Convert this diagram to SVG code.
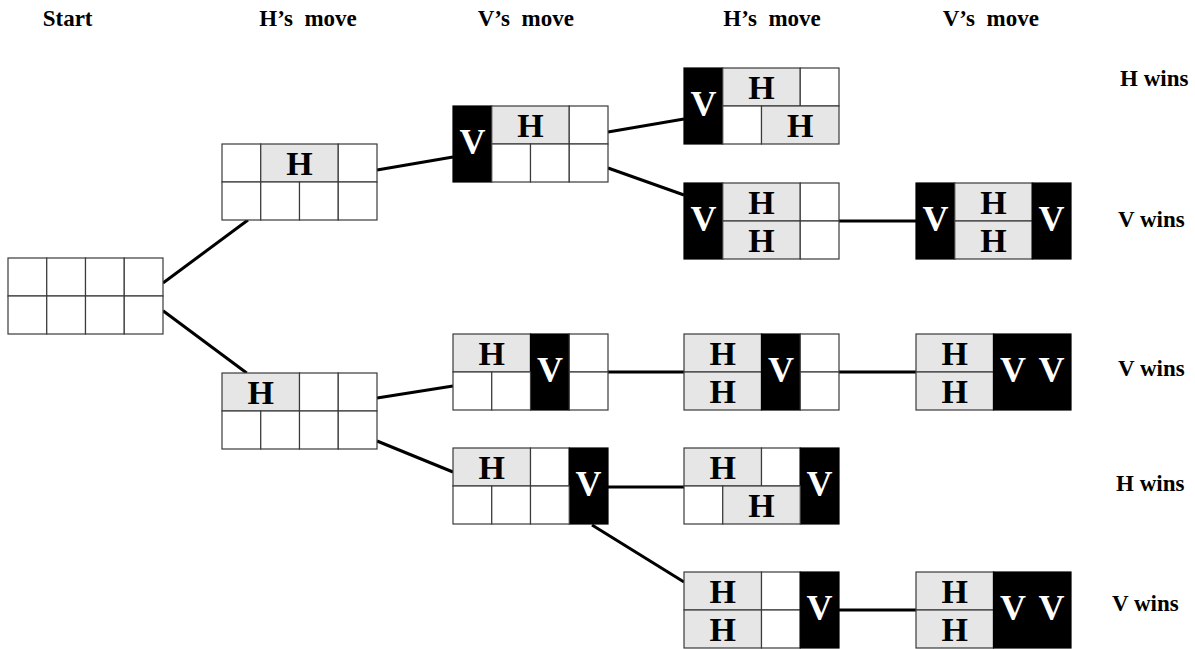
<svg xmlns="http://www.w3.org/2000/svg" width="1195" height="649" viewBox="0 0 1195 649">
<defs>
<style>
.e{fill:#fff;stroke:#3a3a3a;stroke-width:1.2}
.g{fill:#e6e6e6;stroke:#3a3a3a;stroke-width:1.2}
.b{fill:#000;stroke:#000;stroke-width:1.2}
.h{font-weight:bold;font-size:34px;text-anchor:middle;fill:#000}
.v{font-weight:bold;font-size:36px;text-anchor:middle;fill:#fff}
.t{font-weight:bold;font-size:23px;fill:#000}
.c{stroke:#000;stroke-width:3;fill:none}
</style>
</defs>
<rect width="1195" height="649" fill="#fff"/>
<g font-family="Liberation Serif, Times New Roman, DejaVu Serif, serif">
<g id="headers">
<text class="t" x="42.7" y="26">Start</text>
<text class="t" x="259.3" y="26" xml:space="preserve">H’s  move</text>
<text class="t" x="477.7" y="26" xml:space="preserve">V’s  move</text>
<text class="t" x="723.3" y="26" xml:space="preserve">H’s  move</text>
<text class="t" x="942.7" y="26" xml:space="preserve">V’s  move</text>
</g>
<g id="connectors">
<line class="c" x1="163" y1="283" x2="248" y2="220"/>
<line class="c" x1="163" y1="310.7" x2="246.7" y2="373"/>
<line class="c" x1="377" y1="170" x2="453" y2="157"/>
<line class="c" x1="377" y1="398" x2="453" y2="386"/>
<line class="c" x1="377" y1="441" x2="453" y2="472"/>
<line class="c" x1="608" y1="132" x2="684" y2="119"/>
<line class="c" x1="608" y1="168" x2="684" y2="195"/>
<line class="c" x1="839" y1="221" x2="916" y2="221"/>
<line class="c" x1="608" y1="372" x2="684" y2="372"/>
<line class="c" x1="839" y1="372" x2="916" y2="372"/>
<line class="c" x1="608" y1="487" x2="684" y2="487"/>
<line class="c" x1="592" y1="525" x2="684" y2="582"/>
<line class="c" x1="839" y1="610" x2="916" y2="610"/>
</g>
<g id="start" transform="translate(8,258)">
<rect class="e" x="0" y="0" width="38.75" height="38"/><rect class="e" x="38.75" y="0" width="38.75" height="38"/><rect class="e" x="77.5" y="0" width="38.75" height="38"/><rect class="e" x="116.25" y="0" width="38.75" height="38"/>
<rect class="e" x="0" y="38" width="38.75" height="38"/><rect class="e" x="38.75" y="38" width="38.75" height="38"/><rect class="e" x="77.5" y="38" width="38.75" height="38"/><rect class="e" x="116.25" y="38" width="38.75" height="38"/>
</g>
<g id="h1a" transform="translate(222,144)">
<rect class="e" x="0" y="0" width="38.75" height="38"/><rect class="g" x="38.75" y="0" width="77.5" height="38"/><rect class="e" x="116.25" y="0" width="38.75" height="38"/>
<rect class="e" x="0" y="38" width="38.75" height="38"/><rect class="e" x="38.75" y="38" width="38.75" height="38"/><rect class="e" x="77.5" y="38" width="38.75" height="38"/><rect class="e" x="116.25" y="38" width="38.75" height="38"/>
<text class="h" x="77.5" y="30.5">H</text>
</g>
<g id="h1b" transform="translate(222,373)">
<rect class="g" x="0" y="0" width="77.5" height="38"/><rect class="e" x="77.5" y="0" width="38.75" height="38"/><rect class="e" x="116.25" y="0" width="38.75" height="38"/>
<rect class="e" x="0" y="38" width="38.75" height="38"/><rect class="e" x="38.75" y="38" width="38.75" height="38"/><rect class="e" x="77.5" y="38" width="38.75" height="38"/><rect class="e" x="116.25" y="38" width="38.75" height="38"/>
<text class="h" x="38.75" y="30.5">H</text>
</g>
<g id="v1a" transform="translate(453,106)">
<rect class="b" x="0" y="0" width="38.75" height="76"/>
<rect class="g" x="38.75" y="0" width="77.5" height="38"/><rect class="e" x="116.25" y="0" width="38.75" height="38"/>
<rect class="e" x="38.75" y="38" width="38.75" height="38"/><rect class="e" x="77.5" y="38" width="38.75" height="38"/><rect class="e" x="116.25" y="38" width="38.75" height="38"/>
<text class="v" x="19.4" y="47.5">V</text><text class="h" x="77.5" y="30.5">H</text>
</g>
<g id="v1b" transform="translate(453,334)">
<rect class="g" x="0" y="0" width="77.5" height="38"/><rect class="b" x="77.5" y="0" width="38.75" height="76"/><rect class="e" x="116.25" y="0" width="38.75" height="38"/>
<rect class="e" x="0" y="38" width="38.75" height="38"/><rect class="e" x="38.75" y="38" width="38.75" height="38"/><rect class="e" x="116.25" y="38" width="38.75" height="38"/>
<text class="h" x="38.75" y="30.5">H</text><text class="v" x="96.9" y="47.5">V</text>
</g>
<g id="v1c" transform="translate(453,448)">
<rect class="g" x="0" y="0" width="77.5" height="38"/><rect class="e" x="77.5" y="0" width="38.75" height="38"/><rect class="b" x="116.25" y="0" width="38.75" height="76"/>
<rect class="e" x="0" y="38" width="38.75" height="38"/><rect class="e" x="38.75" y="38" width="38.75" height="38"/><rect class="e" x="77.5" y="38" width="38.75" height="38"/>
<text class="h" x="38.75" y="30.5">H</text><text class="v" x="135.6" y="47.5">V</text>
</g>
<g id="h2a" transform="translate(684,68)">
<rect class="b" x="0" y="0" width="38.75" height="76"/>
<rect class="g" x="38.75" y="0" width="77.5" height="38"/><rect class="e" x="116.25" y="0" width="38.75" height="38"/>
<rect class="e" x="38.75" y="38" width="38.75" height="38"/><rect class="g" x="77.5" y="38" width="77.5" height="38"/>
<text class="v" x="19.4" y="47.5">V</text><text class="h" x="77.5" y="30.5">H</text><text class="h" x="116.25" y="68.5">H</text>
</g>
<g id="h2b" transform="translate(684,183)">
<rect class="b" x="0" y="0" width="38.75" height="76"/>
<rect class="g" x="38.75" y="0" width="77.5" height="38"/><rect class="e" x="116.25" y="0" width="38.75" height="38"/>
<rect class="g" x="38.75" y="38" width="77.5" height="38"/><rect class="e" x="116.25" y="38" width="38.75" height="38"/>
<text class="v" x="19.4" y="47.5">V</text><text class="h" x="77.5" y="30.5">H</text><text class="h" x="77.5" y="68.5">H</text>
</g>
<g id="h2c" transform="translate(684,334)">
<rect class="g" x="0" y="0" width="77.5" height="38"/><rect class="g" x="0" y="38" width="77.5" height="38"/>
<rect class="b" x="77.5" y="0" width="38.75" height="76"/>
<rect class="e" x="116.25" y="0" width="38.75" height="38"/><rect class="e" x="116.25" y="38" width="38.75" height="38"/>
<text class="h" x="38.75" y="30.5">H</text><text class="h" x="38.75" y="68.5">H</text><text class="v" x="96.9" y="47.5">V</text>
</g>
<g id="h2d" transform="translate(684,448)">
<rect class="g" x="0" y="0" width="77.5" height="38"/><rect class="e" x="77.5" y="0" width="38.75" height="38"/><rect class="b" x="116.25" y="0" width="38.75" height="76"/>
<rect class="e" x="0" y="38" width="38.75" height="38"/><rect class="g" x="38.75" y="38" width="77.5" height="38"/>
<text class="h" x="38.75" y="30.5">H</text><text class="h" x="77.5" y="68.5">H</text><text class="v" x="135.6" y="47.5">V</text>
</g>
<g id="h2e" transform="translate(684,572)">
<rect class="g" x="0" y="0" width="77.5" height="38"/><rect class="g" x="0" y="38" width="77.5" height="38"/>
<rect class="e" x="77.5" y="0" width="38.75" height="38"/><rect class="e" x="77.5" y="38" width="38.75" height="38"/>
<rect class="b" x="116.25" y="0" width="38.75" height="76"/>
<text class="h" x="38.75" y="30.5">H</text><text class="h" x="38.75" y="68.5">H</text><text class="v" x="135.6" y="47.5">V</text>
</g>
<g id="v2a" transform="translate(916,183)">
<rect class="b" x="0" y="0" width="38.75" height="76"/>
<rect class="g" x="38.75" y="0" width="77.5" height="38"/><rect class="g" x="38.75" y="38" width="77.5" height="38"/>
<rect class="b" x="116.25" y="0" width="38.75" height="76"/>
<text class="v" x="19.4" y="47.5">V</text><text class="h" x="77.5" y="30.5">H</text><text class="h" x="77.5" y="68.5">H</text><text class="v" x="135.6" y="47.5">V</text>
</g>
<g id="v2b" transform="translate(916,334)">
<rect class="g" x="0" y="0" width="77.5" height="38"/><rect class="g" x="0" y="38" width="77.5" height="38"/>
<rect class="b" x="77.5" y="0" width="77.5" height="76"/>
<text class="h" x="38.75" y="30.5">H</text><text class="h" x="38.75" y="68.5">H</text><text class="v" x="96.9" y="47.5">V</text><text class="v" x="135.6" y="47.5">V</text>
</g>
<g id="v2c" transform="translate(916,572)">
<rect class="g" x="0" y="0" width="77.5" height="38"/><rect class="g" x="0" y="38" width="77.5" height="38"/>
<rect class="b" x="77.5" y="0" width="77.5" height="76"/>
<text class="h" x="38.75" y="30.5">H</text><text class="h" x="38.75" y="68.5">H</text><text class="v" x="96.9" y="47.5">V</text><text class="v" x="135.6" y="47.5">V</text>
</g>
<g id="outcomes">
<text class="t" x="1120" y="86">H wins</text>
<text class="t" x="1118" y="227">V wins</text>
<text class="t" x="1118" y="376">V wins</text>
<text class="t" x="1116" y="491">H wins</text>
<text class="t" x="1112" y="611">V wins</text>
</g>
</g>
</svg>
